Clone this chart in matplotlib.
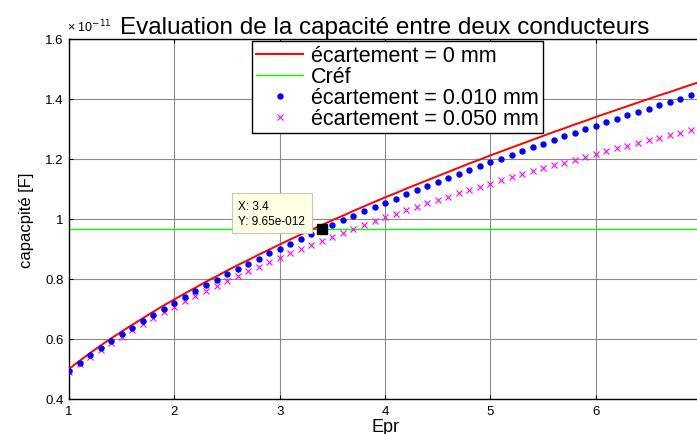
"""
plot.py

Capacitance between two conductors versus relative permittivity (Epr),
for several gap widths, with the reference capacitance Cref.
"""

import matplotlib
matplotlib.use('Agg')
import matplotlib.pyplot as plt
from matplotlib.ticker import FixedLocator, FormatStrFormatter

plt.rcParams['font.family'] = ['Liberation Sans', 'DejaVu Sans']

# values are in units of 1e-11 F
SCALE = 1e-11

epr = [1.0, 1.1, 1.2, 1.3, 1.4, 1.5, 1.6, 1.7, 1.8, 1.9,
       2.0, 2.1, 2.2, 2.3, 2.4, 2.5, 2.6, 2.7, 2.8, 2.9,
       3.0, 3.1, 3.2, 3.3, 3.4, 3.5, 3.6, 3.7, 3.8, 3.9,
       4.0, 4.1, 4.2, 4.3, 4.4, 4.5, 4.6, 4.7, 4.8, 4.9,
       5.0, 5.1, 5.2, 5.3, 5.4, 5.5, 5.6, 5.7, 5.8, 5.9,
       6.0, 6.1, 6.2, 6.3, 6.4, 6.5, 6.6, 6.7, 6.8, 6.9, 7.0]

cap_gap_0 = [0.500, 0.527, 0.553, 0.578, 0.602, 0.625, 0.647, 0.669, 0.691, 0.712,
             0.732, 0.752, 0.771, 0.791, 0.809, 0.828, 0.846, 0.863, 0.881, 0.898,
             0.915, 0.932, 0.948, 0.964, 0.980, 0.996, 1.011, 1.027, 1.042, 1.057,
             1.072, 1.086, 1.101, 1.115, 1.129, 1.143, 1.157, 1.171, 1.185, 1.198,
             1.212, 1.225, 1.238, 1.251, 1.264, 1.277, 1.290, 1.302, 1.315, 1.327,
             1.340, 1.352, 1.364, 1.376, 1.388, 1.400, 1.412, 1.423, 1.435, 1.447, 1.458]

cap_gap_010 = [0.493, 0.519, 0.545, 0.569, 0.593, 0.616, 0.637, 0.659, 0.681, 0.701,
               0.721, 0.741, 0.759, 0.779, 0.797, 0.816, 0.833, 0.850, 0.868, 0.885,
               0.901, 0.918, 0.934, 0.950, 0.965, 0.981, 0.995, 1.011, 1.025, 1.040,
               1.054, 1.068, 1.082, 1.096, 1.109, 1.123, 1.136, 1.150, 1.163, 1.176,
               1.189, 1.201, 1.214, 1.226, 1.239, 1.251, 1.264, 1.275, 1.287, 1.299,
               1.311, 1.323, 1.334, 1.345, 1.357, 1.368, 1.380, 1.390, 1.401, 1.413, 1.423]

cap_gap_050 = [0.490, 0.516, 0.540, 0.564, 0.587, 0.608, 0.629, 0.649, 0.669, 0.689,
               0.707, 0.725, 0.742, 0.760, 0.777, 0.794, 0.810, 0.825, 0.841, 0.856,
               0.871, 0.885, 0.899, 0.913, 0.927, 0.940, 0.953, 0.967, 0.979, 0.992,
               1.005, 1.016, 1.029, 1.040, 1.052, 1.063, 1.074, 1.086, 1.097, 1.107,
               1.118, 1.129, 1.139, 1.149, 1.159, 1.169, 1.179, 1.188, 1.198, 1.207,
               1.217, 1.226, 1.235, 1.244, 1.253, 1.262, 1.271, 1.279, 1.287, 1.296, 1.304]

c_ref = 0.965

# data tip
tip_x = 3.4
tip_y = 0.965

x_ticks = [1, 2, 3, 4, 5, 6]
y_ticks = [0.4, 0.6, 0.8, 1.0, 1.2, 1.4, 1.6]

fig = plt.figure(figsize=(6.97, 4.35), dpi=100)
ax = fig.add_axes([0.099, 0.0805, 0.907, 0.8276])

ax.plot(epr, cap_gap_0, color='red', lw=1.4, label='écartement = 0 mm', zorder=3)
ax.axhline(c_ref, color='#00ff00', lw=1.0, label='Créf', zorder=2)
ax.plot(epr, cap_gap_010, ls='none', marker='o', ms=3.6, color='blue',
        label='écartement = 0.010 mm', zorder=4)
ax.plot(epr, cap_gap_050, ls='none', marker='x', ms=4, mew=0.8, color='magenta',
        label='écartement = 0.050 mm', zorder=3)

ax.set_xlim(1, 7)
ax.set_ylim(0.4, 1.6)
ax.xaxis.set_major_locator(FixedLocator(x_ticks))
ax.yaxis.set_major_locator(FixedLocator(y_ticks))
ax.yaxis.set_major_formatter(FormatStrFormatter('%g'))
ax.tick_params(direction='in', length=3, width=0.8, labelsize=9.5,
               top=True, right=True, pad=4)
ax.grid(True, color='#8a8a8a', lw=0.8)
for s in ax.spines.values():
    s.set_linewidth(1.0)

ax.set_title('Evaluation de la capacité entre deux conducteurs', fontsize=17.5, pad=4)
ax.set_xlabel('Epr', fontsize=13, labelpad=1)
ax.set_ylabel('capacpité [F]', fontsize=12, labelpad=8)
ax.text(-0.003, 1.012, '× 10$^{-11}$', transform=ax.transAxes, fontsize=9,
        ha='left', va='bottom', zorder=1)

# marked point with its tip box
tip_label = f'X: {tip_x:g}\nY: {tip_y * SCALE:.2e}'.replace('e-12', 'e-012')
ax.plot([tip_x], [tip_y], ls='none', marker='s', ms=7, color='black', zorder=6)
ax.annotate(tip_label, xy=(tip_x, tip_y), xytext=(-12, 2), textcoords='offset points',
            ha='right', va='bottom', multialignment='left', fontsize=8.5,
            linespacing=1.35, zorder=7,
            bbox=dict(boxstyle='square,pad=0.55', fc='#ffffe6', ec='#c8c8b4', lw=0.8))

leg = ax.legend(loc='upper left', bbox_to_anchor=(0.289, 0.995), borderaxespad=0,
                fontsize=15.5, fancybox=False, framealpha=1, edgecolor='black',
                handlelength=2.2, handletextpad=0.35, labelspacing=0.0,
                borderpad=0.2, markerscale=1.0)
leg.get_frame().set_linewidth(1.0)

fig.savefig('out.png', dpi=100)
